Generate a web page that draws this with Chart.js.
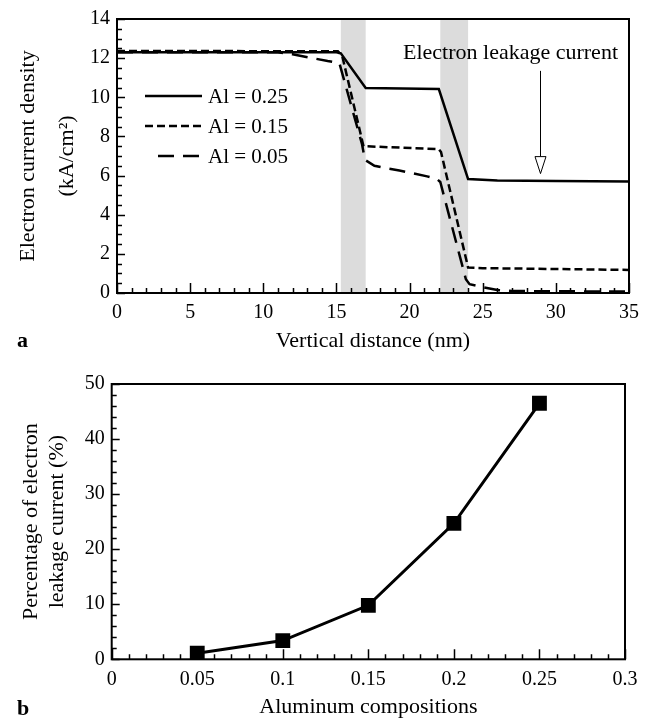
<!DOCTYPE html>
<html>
<head>
<meta charset="utf-8">
<script src="https://cdn.jsdelivr.net/npm/chart.js@4.4.0/dist/chart.umd.min.js"></script>
<style>
  html, body { margin: 0; padding: 0; background: #fff; }
  #wrap { position: relative; width: 649px; height: 718px; overflow: hidden; }
  #chartA { position: absolute; left: 0; top: 0; }
  #chartB { position: absolute; left: 0; top: 360px; }
  .tag { position: absolute; font: bold 22px "Liberation Serif", serif; line-height: 22px; }
</style>
</head>
<body>
<div id="wrap">
  <canvas id="chartA" width="649" height="360"></canvas>
  <canvas id="chartB" width="649" height="358"></canvas>
  <div class="tag" style="left:17px; top:329px;">a</div>
  <div class="tag" style="left:17px; top:697px;">b</div>
</div>

<script>
// ---- panel a: electron current density vs vertical distance ----
const al25X = [0, 10, 15.0, 15.3, 17.0, 22.0, 24.0, 26, 30, 35];
const al25Y = [12.3, 12.3, 12.3, 12.25, 10.48, 10.42, 5.82, 5.75, 5.72, 5.7];

const al15X = [0, 15.1, 15.4, 16.85, 22.0, 22.15, 24.0, 25, 35];
const al15Y = [12.37, 12.35, 12.1, 7.5, 7.35, 7.2, 1.3, 1.27, 1.18];

const al05X = [0, 11, 12, 14.4, 15.2, 16.75, 16.95, 17.6, 18.5, 19.3, 21.2, 21.85, 22.1, 23.85, 24.1, 25, 26, 27, 35];
const al05Y = [12.3, 12.3, 12.2, 11.85, 11.75, 7.6, 6.8, 6.5, 6.36, 6.26, 5.96, 5.84, 5.67, 0.7, 0.45, 0.3, 0.15, 0.1, 0.07];

const seriesNames = ['Al = 0.25', 'Al = 0.15', 'Al = 0.05'];
const barrierBands = [[15.3, 17.0], [22.1, 24.0]];   // shaded layers (nm)
const arrowX = 28.9, arrowFrom = 11.35, arrowTo = 6.1;
const noteText = 'Electron leakage current';
const noteX = 26.9, noteY = 12.27;

// ---- panel b: leakage percentage vs Al composition ----
const alComp = [0.05, 0.1, 0.15, 0.2, 0.25];
const leakPct = [1.1, 3.4, 9.8, 24.7, 46.5];

Chart.defaults.font.family = '"Liberation Serif", "Times New Roman", serif';
Chart.defaults.color = '#000';

const serif = size => ({ family: '"Liberation Serif", serif', size: size });

function toPoints(xs, ys) {
    return xs.map((v, i) => ({ x: v, y: ys[i] }));
}

// inward tick marks + box frame
const ticksFrame = {
    id: 'ticksFrame',
    afterDatasetsDraw(chart, args, o) {
        const { ctx, chartArea: a } = chart;
        const x = chart.scales.x, y = chart.scales.y;
        ctx.save();
        ctx.strokeStyle = '#000';
        ctx.lineWidth = 1.5;
        ctx.beginPath();
        const nx = Math.round((x.max - x.min) / o.xMinor);
        for (let i = 0; i <= nx; i++) {
            const px = Math.round(x.getPixelForValue(x.min + i * o.xMinor)) + 0.5;
            const len = i % o.xEvery === 0 ? o.major : o.minor;
            ctx.moveTo(px, a.bottom);
            ctx.lineTo(px, a.bottom - len);
        }
        const ny = Math.round((y.max - y.min) / o.yMinor);
        for (let i = 0; i <= ny; i++) {
            const py = Math.round(y.getPixelForValue(y.min + i * o.yMinor)) + 0.5;
            const len = i % o.yEvery === 0 ? o.major - 2 : o.minor;
            ctx.moveTo(a.left, py);
            ctx.lineTo(a.left + len, py);
        }
        ctx.stroke();
        ctx.lineWidth = 2;
        ctx.strokeRect(a.left, a.top, a.right - a.left, a.bottom - a.top);
        ctx.restore();
    }
};

// gray bands behind the curves
const bandsPlugin = {
    id: 'bands',
    beforeDatasetsDraw(chart) {
        const { ctx, chartArea: a } = chart;
        const x = chart.scales.x;
        ctx.save();
        ctx.fillStyle = '#dcdcdc';
        barrierBands.forEach(b => {
            const x0 = x.getPixelForValue(b[0]);
            const x1 = x.getPixelForValue(b[1]);
            ctx.fillRect(x0, a.top + 1, x1 - x0, a.bottom - a.top - 1);
        });
        ctx.restore();
    }
};

// legend inside the plot, arrow and note
const notesPlugin = {
    id: 'notes',
    afterDatasetsDraw(chart) {
        const { ctx, chartArea: a } = chart;
        const x = chart.scales.x, y = chart.scales.y;
        ctx.save();
        // legend
        const starts = [28, 28, 41];
        ctx.font = '21px "Liberation Serif", serif';
        ctx.textBaseline = 'middle';
        ctx.fillStyle = '#000';
        chart.data.datasets.forEach((ds, i) => {
            const ly = a.top + 77 + i * 30;
            ctx.strokeStyle = '#000';
            ctx.lineWidth = ds.borderWidth;
            ctx.setLineDash(ds.borderDash || []);
            ctx.beginPath();
            ctx.moveTo(a.left + starts[i], ly);
            ctx.lineTo(a.left + 85, ly);
            ctx.stroke();
            ctx.fillText(ds.label, a.left + 91, ly + 1);
        });
        ctx.setLineDash([]);
        // annotation text
        ctx.font = '22px "Liberation Serif", serif';
        ctx.textAlign = 'center';
        ctx.fillText(noteText, x.getPixelForValue(noteX), y.getPixelForValue(noteY));
        // arrow with open head
        const ax = Math.round(x.getPixelForValue(arrowX)) + 0.5;
        const y0 = y.getPixelForValue(arrowFrom);
        const y1 = y.getPixelForValue(arrowTo);
        ctx.lineWidth = 1;
        ctx.beginPath();
        ctx.moveTo(ax, y0);
        ctx.lineTo(ax, y1 - 17);
        ctx.stroke();
        ctx.beginPath();
        ctx.moveTo(ax - 5.5, y1 - 17);
        ctx.lineTo(ax + 5.5, y1 - 17);
        ctx.lineTo(ax, y1);
        ctx.closePath();
        ctx.fillStyle = '#fff';
        ctx.fill();
        ctx.stroke();
        ctx.restore();
    }
};

// --- Chart a ---
new Chart(document.getElementById('chartA').getContext('2d'), {
    type: 'line',
    data: {
        datasets: [
            { label: seriesNames[0], data: toPoints(al25X, al25Y), borderColor: '#000', borderWidth: 2.5, pointRadius: 0 },
            { label: seriesNames[1], data: toPoints(al15X, al15Y), borderColor: '#000', borderWidth: 2.5, borderDash: [8, 4], pointRadius: 0 },
            { label: seriesNames[2], data: toPoints(al05X, al05Y), borderColor: '#000', borderWidth: 2.5, borderDash: [16, 9], pointRadius: 0 }
        ]
    },
    options: {
        responsive: false,
        animation: false,
        devicePixelRatio: 1,
        layout: { padding: { left: 0, right: 20, top: 18, bottom: 0 } },
        plugins: {
            legend: { display: false },
            tooltip: { enabled: false },
            ticksFrame: { xMinor: 1, xEvery: 5, yMinor: 0.5, yEvery: 4, major: 10, minor: 5 }
        },
        scales: {
            x: {
                type: 'linear', min: 0, max: 35,
                grid: { display: false, drawTicks: false },
                border: { display: false },
                ticks: { stepSize: 5, font: serif(20), padding: 8, maxRotation: 0 },
                title: { display: true, text: 'Vertical distance (nm)', font: { ...serif(22), lineHeight: 1.2 }, padding: { top: 0, bottom: 6 } },
                afterFit: s => { s.height = 67; }
            },
            y: {
                min: 0, max: 14,
                grid: { display: false, drawTicks: false },
                border: { display: false },
                ticks: { stepSize: 2, font: serif(20), padding: 7 },
                title: { display: true, text: ['Electron current density', '(kA/cm²)'], font: { ...serif(22), lineHeight: 1.8 }, padding: { top: 8, bottom: 0 } },
                afterFit: s => { s.width = 117; }
            }
        }
    },
    plugins: [bandsPlugin, ticksFrame, notesPlugin]
});

// --- Chart b ---
new Chart(document.getElementById('chartB').getContext('2d'), {
    type: 'line',
    data: {
        datasets: [{
            label: 'Leakage',
            data: toPoints(alComp, leakPct),
            borderColor: '#000',
            backgroundColor: '#000',
            borderWidth: 3,
            pointStyle: 'rect',
            pointRadius: 10.5,
            pointBorderWidth: 0
        }]
    },
    options: {
        responsive: false,
        animation: false,
        devicePixelRatio: 1,
        layout: { padding: { left: 0, right: 24, top: 24, bottom: 0 } },
        plugins: {
            legend: { display: false },
            tooltip: { enabled: false },
            ticksFrame: { xMinor: 0.01, xEvery: 5, yMinor: 2, yEvery: 5, major: 10, minor: 5 }
        },
        scales: {
            x: {
                type: 'linear', min: 0, max: 0.3,
                grid: { display: false, drawTicks: false },
                border: { display: false },
                ticks: { stepSize: 0.05, font: serif(20), padding: 8, maxRotation: 0, callback: v => String(+v.toFixed(2)) },
                title: { display: true, text: 'Aluminum compositions', font: { ...serif(22), lineHeight: 1.0 }, padding: { top: 0, bottom: 0 } },
                afterFit: s => { s.height = 58.7; }
            },
            y: {
                min: 0, max: 50,
                grid: { display: false, drawTicks: false },
                border: { display: false },
                ticks: { stepSize: 10, font: serif(20), padding: 7 },
                title: { display: true, text: ['Percentage of electron', 'leakage current (%)'], font: { ...serif(22), lineHeight: 1.2 }, padding: { top: 18, bottom: 0 } },
                afterFit: s => { s.width = 111.7; }
            }
        }
    },
    plugins: [ticksFrame]
});
</script>
</body>
</html>
